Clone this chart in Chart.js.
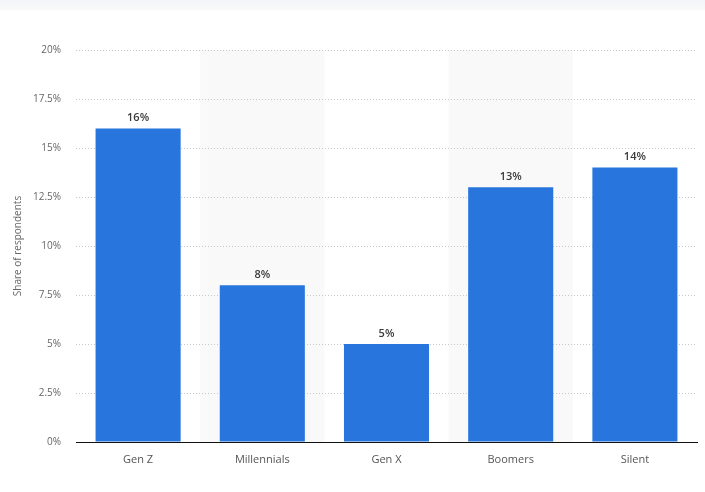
<!DOCTYPE html>
<html>
<head>
<meta charset="utf-8">
<script src="https://cdn.jsdelivr.net/npm/chart.js@4"></script>
<style>
  html, body { margin: 0; padding: 0; background: #fff; }
  .wrap { width: 705px; height: 492px; position: relative; }
</style>
</head>
<body>
<div class="wrap"><canvas id="myChart" width="705" height="492"></canvas></div>
<script>
// data
const labels = ['Gen Z', 'Millennials', 'Gen X', 'Boomers', 'Silent'];
const shares = [16, 8, 5, 13, 14];
const yTicks = [0, 2.5, 5, 7.5, 10, 12.5, 15, 17.5, 20];

const FONT = "'Open Sans', 'Noto Sans', sans-serif";

// light stripes behind every other category + top band
const background = {
  id: 'background',
  beforeDraw(chart) {
    const ctx = chart.ctx;
    const x = chart.scales.x;
    const area = chart.chartArea;
    ctx.save();
    let g = ctx.createLinearGradient(0, 0, 0, 10);
    g.addColorStop(0, '#f3f4f7');
    g.addColorStop(1, '#f8f9fb');
    ctx.fillStyle = g;
    ctx.fillRect(0, 0, chart.width, 10);
    ctx.fillStyle = '#f9f9f9';
    const step = (x.right - x.left) / labels.length;
    labels.forEach((l, i) => {
      if (i % 2 === 1) {
        ctx.fillRect(x.left + step * i, area.top, step, area.bottom - area.top);
      }
    });
    ctx.restore();
  }
};

// value labels on top of bars
const valueLabels = {
  id: 'valueLabels',
  afterDatasetsDraw(chart) {
    const ctx = chart.ctx;
    const meta = chart.getDatasetMeta(0);
    ctx.save();
    ctx.font = "600 11px " + FONT;
    ctx.fillStyle = '#3a3a3a';
    ctx.textAlign = 'center';
    ctx.textBaseline = 'bottom';
    meta.data.forEach((bar, i) => {
      ctx.fillText(shares[i] + '%', bar.x, bar.y - 5);
    });
    ctx.restore();
  }
};

const config = {
  type: 'bar',
  data: {
    labels: labels,
    datasets: [{
      data: shares,
      backgroundColor: '#2876dd',
      categoryPercentage: 1,
      barPercentage: 0.685,
    }]
  },
  options: {
    responsive: false,
    animation: false,
    layout: { padding: { top: 50, right: 8, left: 0, bottom: 0 } },
    scales: {
      x: {
        grid: { display: false, drawTicks: false },
        border: { display: true, color: '#111', width: 1 },
        ticks: { color: '#555', font: { family: FONT, size: 11 }, padding: 11 },
        afterFit(scale) { scale.height = 50; }
      },
      y: {
        min: 0,
        max: 20,
        afterBuildTicks(scale) { scale.ticks = yTicks.map(v => ({ value: v })); },
        grid: { color: '#c8c8c8', lineWidth: 1, drawTicks: false },
        border: { display: false, dash: [1, 2] },
        ticks: {
          color: '#666',
          font: { family: FONT, size: 10 },
          padding: 15,
          callback: v => v + '%'
        },
        title: {
          display: true,
          text: 'Share of respondents',
          color: '#666',
          font: { family: FONT, size: 10 },
          padding: { top: 12, bottom: 0 }
        },
        afterFit(scale) { scale.width = 76; }
      }
    },
    plugins: {
      legend: { display: false },
      tooltip: { enabled: false }
    }
  },
  plugins: [background, valueLabels]
};

const myChart = new Chart(document.getElementById('myChart'), config);
</script>
</body>
</html>
